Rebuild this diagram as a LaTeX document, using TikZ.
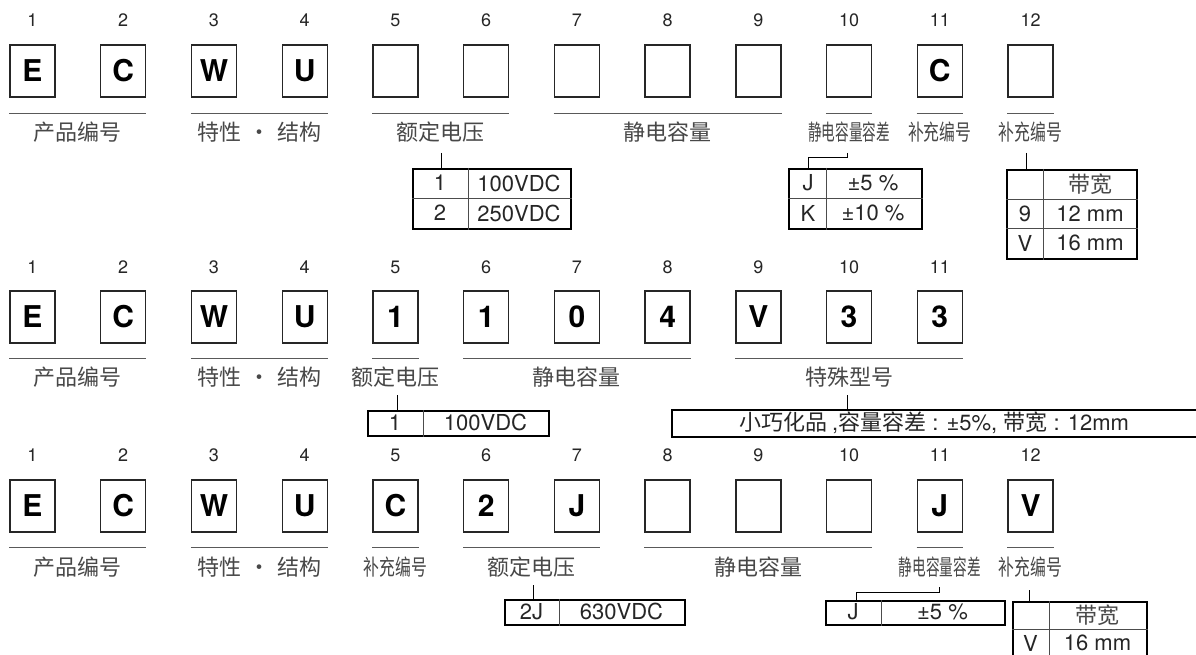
\documentclass[tikz,border=0pt]{standalone}
\usepackage{fontspec}
\usepackage{graphicx}
\setmainfont{TeX Gyre Heros}
\newfontfamily\cjk{Noto Sans CJK SC}
\usetikzlibrary{calc}
\definecolor{labc}{HTML}{484848}
\tikzset{
  cbox/.style={draw=black!85, line width=1.3pt, minimum width=45pt, minimum height=52pt, inner sep=0pt, font=\fontsize{30}{30}\selectfont\bfseries},
  num/.style={font=\fontsize{18}{18}\selectfont, inner sep=0pt, text=black!85},
  uline/.style={draw=black!65, line width=1pt},
  lab/.style={font=\cjk\fontsize{22}{22}\selectfont, text=labc, inner sep=0pt},
  tbl/.style={draw=black, line width=2.2pt, inner sep=0pt, anchor=north west},
  tline/.style={draw=black!70, line width=0.9pt},
  ttext/.style={font=\fontsize{22}{22}\selectfont, inner sep=0pt, text=black!85},
  tcjk/.style={font=\cjk\fontsize{22}{22}\selectfont, inner sep=0pt, text=labc},
  conn/.style={draw=black, line width=1pt},
}
\newcommand{\narrowA}[1]{\scalebox{0.62}[1]{#1}}
\newcommand{\narrowB}[1]{\scalebox{0.72}[1]{#1}}
\begin{document}
\begin{tikzpicture}[x=1pt,y=-1pt]
\useasboundingbox (0,0) rectangle (1196,655);
\clip (0,0) rectangle (1196,655);
\fill[white] (0,0) rectangle (1196,655);

% ---------------- Row 1 ----------------
\foreach \i/\t in {1/E,2/C,3/W,4/U,5/,6/,7/,8/,9/,10/,11/C,12/} {
  \node[cbox] (a\i) at ({32.5+90.73*(\i-1)},71) {\t};
  \node[num] (na\i) at ({32.5+90.73*(\i-1)},20) {\i};
}
\draw[uline] ([yshift=-16pt]a1.south west) -- ([yshift=-16pt]a2.south east);
\draw[uline] ([yshift=-16pt]a3.south west) -- ([yshift=-16pt]a4.south east);
\draw[uline] ([yshift=-16pt]a5.south west) -- ([yshift=-16pt]a6.south east);
\draw[uline] ([yshift=-16pt]a7.south west) -- ([yshift=-16pt]a9.south east);
\draw[uline] ([yshift=-16pt]a10.south west) -- ([yshift=-16pt]a10.south east);
\draw[uline] ([yshift=-16pt]a11.south west) -- ([yshift=-16pt]a11.south east);
\draw[uline] ([yshift=-16pt]a12.south west) -- ([yshift=-16pt]a12.south east);
\node[lab] (la1) at (77.9,132) {产品编号};
\node[lab] (la2) at (259.4,132) {特性\hspace{7pt}・\hspace{7pt}结构};
\node[lab] (la3) at (440.8,132) {额定电压};
\node[lab] (la4) at (667.6,132) {静电容量};
\node[lab] (la5) at (849.1,132) {\narrowA{静电容量容差}};
\node[lab] (la6) at (939.8,132) {\narrowB{补充编号}};
\node[lab] (la7) at (1030.5,132) {\narrowB{补充编号}};

% table: rated voltage
\node[tbl, minimum width=158pt, minimum height=60pt] (t1) at (412,168) {};
\draw[tline] ([xshift=56pt]t1.north west) -- ([xshift=56pt]t1.south west);
\draw[tline] ([yshift=-30pt]t1.north west) -- ([yshift=-30pt]t1.north east);
\node[ttext] (t1a) at (440,183) {1};
\node[ttext] (t1b) at (519,183) {100VDC};
\node[ttext] (t1c) at (440,213) {2};
\node[ttext] (t1d) at (519,213) {250VDC};
\coordinate (k0) at (441,153);
\draw[conn] (k0) -- (k0 |- t1.north);

% table: tolerance
\node[tbl, minimum width=133pt, minimum height=60pt] (t2) at (788,168) {};
\draw[tline] ([xshift=38pt]t2.north west) -- ([xshift=38pt]t2.south west);
\draw[tline] ([yshift=-30pt]t2.north west) -- ([yshift=-30pt]t2.north east);
\node[ttext] (t2a) at (808,183) {J};
\node[ttext] (t2b) at (873,183) {±5 \%};
\node[ttext] (t2c) at (808,213) {K};
\node[ttext] (t2d) at (873,213) {±10 \%};
\coordinate (k1) at (847,153);
\coordinate (k2) at (808,158);
\draw[conn] (k1) |- (k2) -- (k2 |- t2.north);

% table: tape width
\node[tbl, minimum width=130pt, minimum height=89pt] (t3) at (1006,169) {};
\draw[tline] ([xshift=37pt]t3.north west) -- ([xshift=37pt]t3.south west);
\draw[tline] ([yshift=-30pt]t3.north west) -- ([yshift=-30pt]t3.north east);
\draw[tline] ([yshift=-59pt]t3.north west) -- ([yshift=-59pt]t3.north east);
\node[tcjk] (t3h) at (1090,184) {带宽};
\node[ttext] (t3a) at (1025,214) {9};
\node[ttext] (t3b) at (1090,214) {12 mm};
\node[ttext] (t3c) at (1025,243) {V};
\node[ttext] (t3d) at (1090,243) {16 mm};
\coordinate (k3) at (1026,153);
\draw[conn] (k3) -- (k3 |- t3.north);

% ---------------- Row 2 ----------------
\foreach \i/\t in {1/E,2/C,3/W,4/U,5/1,6/1,7/0,8/4,9/V,10/3,11/3} {
  \node[cbox] (b\i) at ({32.5+90.73*(\i-1)},317) {\t};
  \node[num] (nb\i) at ({32.5+90.73*(\i-1)},267) {\i};
}
\draw[uline] ([yshift=-15pt]b1.south west) -- ([yshift=-15pt]b2.south east);
\draw[uline] ([yshift=-15pt]b3.south west) -- ([yshift=-15pt]b4.south east);
\draw[uline] ([yshift=-15pt]b5.south west) -- ([yshift=-15pt]b5.south east);
\draw[uline] ([yshift=-15pt]b6.south west) -- ([yshift=-15pt]b8.south east);
\draw[uline] ([yshift=-15pt]b9.south west) -- ([yshift=-15pt]b11.south east);
\node[lab] (lb1) at (77.9,377) {产品编号};
\node[lab] (lb2) at (259.4,377) {特性\hspace{7pt}・\hspace{7pt}结构};
\node[lab] (lb3) at (395.4,377) {额定电压};
\node[lab] (lb4) at (576.9,377) {静电容量};
\node[lab] (lb5) at (849.1,377) {特殊型号};

\node[tbl, minimum width=181pt, minimum height=25pt] (t4) at (367,410) {};
\draw[tline] ([xshift=56pt]t4.north west) -- ([xshift=56pt]t4.south west);
\node[ttext] (t4a) at (395,422.5) {1};
\node[ttext] (t4b) at (485.5,422.5) {100VDC};
\coordinate (k4) at (397,395);
\draw[conn] (k4) -- (k4 |- t4.north);

\node[tbl, minimum width=560pt, minimum height=27pt] (t5) at (671,409) {};
\node[ttext] (t5a) at (934,422.5) {{\cjk 小巧化品}\kern5pt,{\cjk 容量容差} : ±5\%, {\cjk 带宽} : 12mm};
\coordinate (k5) at (847,395);
\draw[conn] (k5) -- (k5 |- t5.north);

% ---------------- Row 3 ----------------
\foreach \i/\t in {1/E,2/C,3/W,4/U,5/C,6/2,7/J,8/,9/,10/,11/J,12/V} {
  \node[cbox] (c\i) at ({32.5+90.73*(\i-1)},506) {\t};
  \node[num] (nc\i) at ({32.5+90.73*(\i-1)},455) {\i};
}
\draw[uline] ([yshift=-15pt]c1.south west) -- ([yshift=-15pt]c2.south east);
\draw[uline] ([yshift=-15pt]c3.south west) -- ([yshift=-15pt]c4.south east);
\draw[uline] ([yshift=-15pt]c5.south west) -- ([yshift=-15pt]c5.south east);
\draw[uline] ([yshift=-15pt]c6.south west) -- ([yshift=-15pt]c7.south east);
\draw[uline] ([yshift=-15pt]c8.south west) -- ([yshift=-15pt]c10.south east);
\draw[uline] ([yshift=-15pt]c11.south west) -- ([yshift=-15pt]c11.south east);
\draw[uline] ([yshift=-15pt]c12.south west) -- ([yshift=-15pt]c12.south east);
\node[lab] (lc1) at (77.9,567) {产品编号};
\node[lab] (lc2) at (259.4,567) {特性\hspace{7pt}・\hspace{7pt}结构};
\node[lab] (lc3) at (395.4,567) {\narrowB{补充编号}};
\node[lab] (lc4) at (531.5,567) {额定电压};
\node[lab] (lc5) at (758.3,567) {静电容量};
\node[lab] (lc6) at (939.8,567) {\narrowA{静电容量容差}};
\node[lab] (lc7) at (1030.5,567) {\narrowB{补充编号}};

\node[tbl, minimum width=180pt, minimum height=25pt] (t6) at (504,599) {};
\draw[tline] ([xshift=55pt]t6.north west) -- ([xshift=55pt]t6.south west);
\node[ttext] (t6a) at (531.5,611.5) {2J};
\node[ttext] (t6b) at (621.5,611.5) {630VDC};
\coordinate (k6) at (533,585);
\draw[conn] (k6) -- (k6 |- t6.north);

\node[tbl, minimum width=179pt, minimum height=24pt] (t7) at (825,600) {};
\draw[tline] ([xshift=56pt]t7.north west) -- ([xshift=56pt]t7.south west);
\node[ttext] (t7a) at (853,612) {J};
\node[ttext] (t7b) at (942.5,612) {±5 \%};
\coordinate (k7) at (939,587);
\coordinate (k8) at (856,592);
\draw[conn] (k7) |- (k8) -- (k8 |- t7.north);

\node[tbl, minimum width=134pt, minimum height=58pt] (t8) at (1012,601) {};
\draw[tline] ([xshift=37pt]t8.north west) -- ([xshift=37pt]t8.south west);
\draw[tline] ([yshift=-28pt]t8.north west) -- ([yshift=-28pt]t8.north east);
\node[tcjk] (t8h) at (1097.5,615) {带宽};
\node[ttext] (t8a) at (1030.5,643) {V};
\node[ttext] (t8b) at (1097.5,643) {16 mm};
\coordinate (k9) at (1029,590);
\draw[conn] (k9) -- (k9 |- t8.north);
\end{tikzpicture}
\end{document}
